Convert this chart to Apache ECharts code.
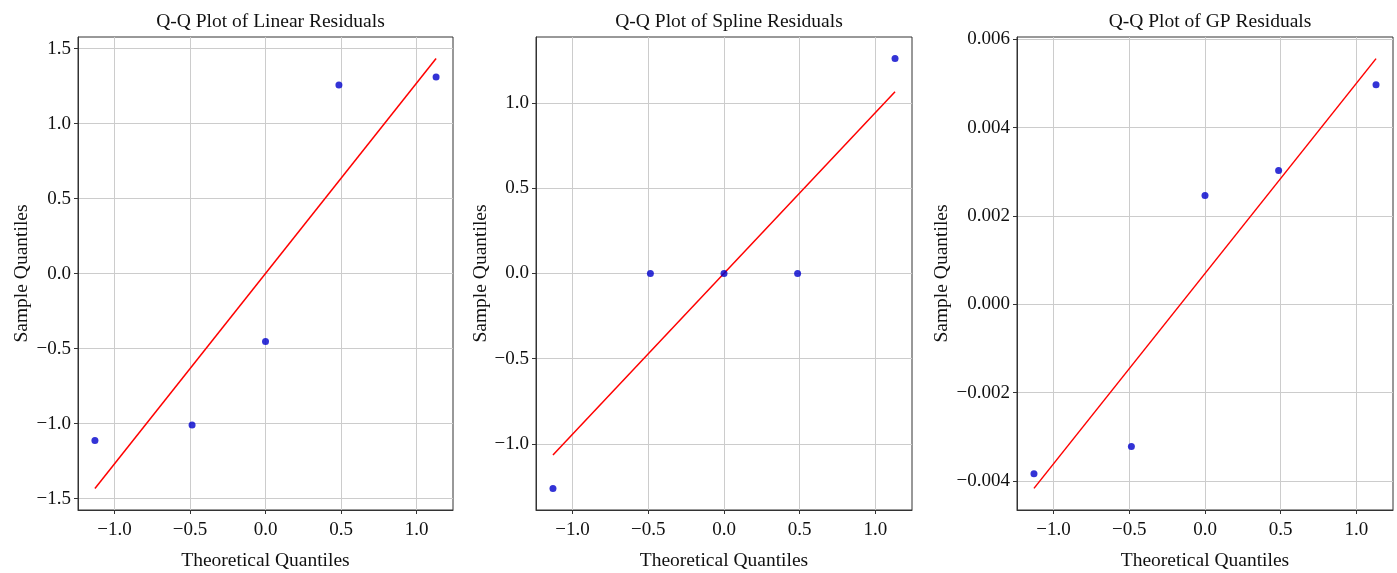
<!DOCTYPE html>
<html><head><meta charset="utf-8">
<script src="https://cdn.jsdelivr.net/npm/echarts@6/dist/echarts.min.js"></script>
<style>html,body{margin:0;padding:0;background:#fff;}#c{width:1397px;height:573px;}</style>
</head><body><div id="c"></div>
<script>
const titles = ['Q-Q Plot of Linear Residuals', 'Q-Q Plot of Spline Residuals', 'Q-Q Plot of GP Residuals'];
const theoQuantiles = [-1.129, -0.486, 0.0, 0.486, 1.129];
const linearResiduals = [-1.113, -1.009, -0.453, 1.258, 1.311];
const splineResiduals = [-1.263, 0.0, 0.0, 0.0, 1.263];
const gpResiduals = [-0.00384, -0.00322, 0.00246, 0.00303, 0.00497];
const fitX = [-1.129, 1.129];
const linearFit = [-1.433, 1.435];
const splineFit = [-1.066, 1.067];
const gpFit = [-0.00417, 0.00556];
const xTicks = [-1.0, -0.5, 0.0, 0.5, 1.0];
const y1Ticks = [-1.5, -1.0, -0.5, 0.0, 0.5, 1.0, 1.5];
const y2Ticks = [-1.0, -0.5, 0.0, 0.5, 1.0];
const y3Ticks = [-0.004, -0.002, 0.0, 0.002, 0.004, 0.006];
const xLabel = 'Theoretical Quantiles';
const yLabel = 'Sample Quantiles';

const residuals = [linearResiduals, splineResiduals, gpResiduals];
const fits = [linearFit, splineFit, gpFit];
const yTicks = [y1Ticks, y2Ticks, y3Ticks];
const yDec = [1, 1, 3];
const yRanges = [[-1.576, 1.578], [-1.389, 1.389], [-0.00466, 0.00605]];
const xRange = [-1.241, 1.241];
const grids = [
  {left: 78, top: 37, width: 375, height: 473},
  {left: 536, top: 37, width: 376, height: 473},
  {left: 1017, top: 37, width: 376, height: 473}
];
const yNameGap = [46, 44, 65];
const FONT = '"Liberation Serif", "Times New Roman", serif';
const fmt = d => v => { const s = Number(v).toFixed(d); return s.replace('-', '\u2212'); };

const chart = echarts.init(document.getElementById('c'), null, {renderer: 'canvas'});
const option = {
  animation: false,
  backgroundColor: '#fff',
  title: titles.map((t, i) => ({
    text: t,
    left: grids[i].left + grids[i].width / 2,
    top: 7,
    textAlign: 'center',
    textStyle: {fontFamily: FONT, fontSize: 19.5, fontWeight: 'normal', color: '#111'}
  })),
  grid: grids.map(g => Object.assign({show: true, borderColor: '#333', borderWidth: 1, backgroundColor: 'transparent', containLabel: false, outerBoundsMode: 'none'}, g)),
  xAxis: grids.map((g, i) => ({
    type: 'value', gridIndex: i, min: xRange[0], max: xRange[1],
    name: xLabel, nameLocation: 'middle', nameGap: 41,
    nameTextStyle: {fontFamily: FONT, fontSize: 19.5, color: '#111'},
    axisLine: {show: true, onZero: false, lineStyle: {color: '#333', width: 1}},
    axisTick: {show: true, length: 4, inside: false, customValues: xTicks, lineStyle: {color: '#333'}},
    axisLabel: {customValues: xTicks, formatter: fmt(1), fontFamily: FONT, fontSize: 19, color: '#111', margin: 11},
    splitLine: {show: true, lineStyle: {color: '#cccccc', width: 1}}
  })),
  yAxis: grids.map((g, i) => ({
    type: 'value', gridIndex: i, min: yRanges[i][0], max: yRanges[i][1],
    name: yLabel, nameLocation: 'middle', nameGap: yNameGap[i], nameRotate: 90,
    nameTextStyle: {fontFamily: FONT, fontSize: 19.5, color: '#111'},
    axisLine: {show: true, onZero: false, lineStyle: {color: '#333', width: 1}},
    axisTick: {show: true, length: 4, inside: false, customValues: yTicks[i], lineStyle: {color: '#333'}},
    axisLabel: {customValues: yTicks[i], formatter: fmt(yDec[i]), fontFamily: FONT, fontSize: 19, color: '#111', margin: 7},
    splitLine: {show: true, lineStyle: {color: '#cccccc', width: 1}}
  })),
  series: []
};
for (let i = 0; i < 3; i++) {
  option.series.push({
    type: 'line', xAxisIndex: i, yAxisIndex: i,
    data: fitX.map((x, k) => [x, fits[i][k]]),
    showSymbol: false, symbol: 'none',
    lineStyle: {color: '#ff0000', width: 1.5}, z: 3
  });
  option.series.push({
    type: 'scatter', xAxisIndex: i, yAxisIndex: i,
    data: theoQuantiles.map((x, k) => [x, residuals[i][k]]),
    symbol: 'circle', symbolSize: 7,
    itemStyle: {color: '#0000cc'}, z: 4
  });
}
chart.setOption(option);
</script>
</body></html>
